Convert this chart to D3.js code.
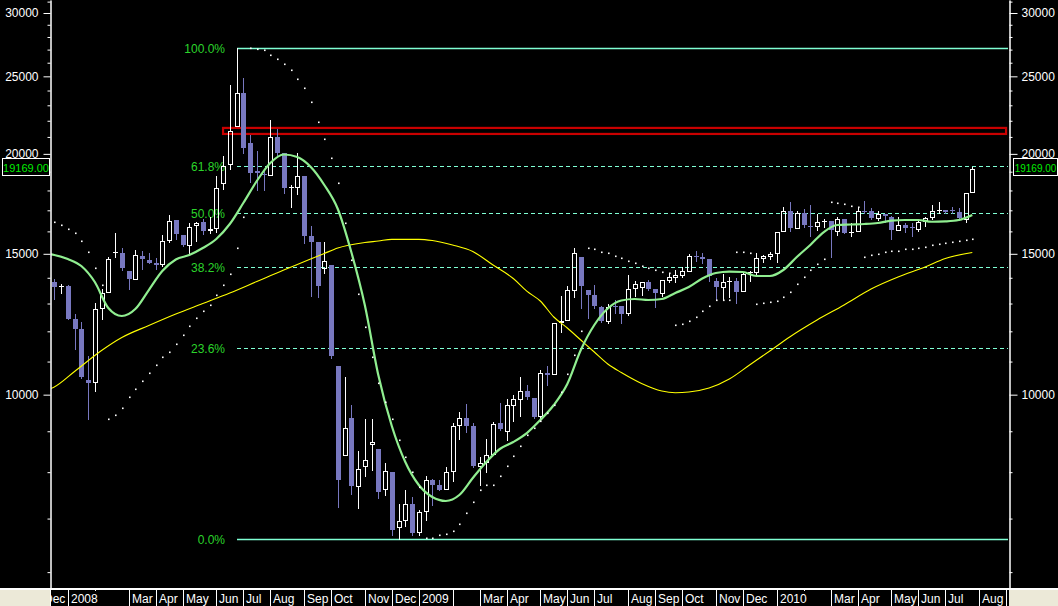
<!DOCTYPE html>
<html><head><meta charset="utf-8">
<script src="https://cdn.jsdelivr.net/npm/d3@7/dist/d3.min.js"></script>
<style>
html,body{margin:0;padding:0;background:#000;overflow:hidden}
svg{display:block}
text{font-family:"Liberation Sans",Arial,sans-serif}
</style></head><body>
<svg id="c" width="1058" height="606"></svg>
<script>
// ---------- DATA (weekly candles, index 0 = 3rd week of Dec 2007) ----------
const opens=[13830,13640,13670,12420,12090,10431,10332,12785,13410,15060,
 15020,14262,13910,14904,14734,14620,14510,15548,16532,15820,
 15340,16250,16437,16002,16122,18320,19355,21625,23810,20616,
 19030,18880,18790,21020,20030,18130,18143,18770,15790,15517,
 14370,14510,10860,8380,9350,7672,8112,8660,8552,7594,
 8004,6807,6945,7300,6708,7128,7822,7716,7594,7997,
 9137,9342,9137,8127,8220,8405,9225,8988,9686,9856,
 10106,9904,9366,10636,10590,12280,12355,13490,14875,13515,
 13325,12880,12320,12920,12905,12600,13540,13600,13830,13565,
 13360,13870,13975,14070,14245,14925,14845,14764,13870,13600,
 13850,13870,13425,14230,14180,14790,14875,14980,15985,16966,
 16110,16855,16265,16190,16440,16485,15985,16570,15950,15970,
 16985,16950,16580,16820,16690,16030,16295,16200,16063,16437,
 16610,16990,17000,17000,16915,16532,17870];
const highs=[13940,13740,13700,12610,12326,11177,13008,13565,14875,15939,
 15250,14270,15164,15133,15047,14820,15850,16790,16540,15850,
 16390,16420,16570,16690,18780,19876,24385,27130,24858,21115,
 20164,19160,22046,21464,20050,18290,20030,18790,16250,15530,
 15517,14520,10870,10530,9707,8510,9323,9323,8560,8206,
 8010,7300,7600,7455,7175,7913,7851,7822,8127,9225,
 9513,9735,9225,8350,8793,9242,9755,9868,10000,10530,
 10290,9910,10735,10860,12290,13290,13670,15250,14880,13520,
 13710,12900,12970,13130,12920,14110,13870,13840,13910,13570,
 13920,14150,14316,14427,14980,15120,15050,14770,14000,14150,
 14020,13975,14245,14290,15020,14950,15060,15990,17150,17400,
 16966,17050,17260,16810,16570,16500,16690,16580,16400,17150,
 17460,17100,16985,16830,16720,16690,16380,16390,16500,16660,
 17260,17390,17020,17150,17100,17880,19270];
const lows=[13160,13390,12420,11395,10500,9331,10115,12440,13400,14849,
 14316,13540,13900,14370,14600,14350,14500,15540,15665,15360,
 15047,15548,15880,15912,15950,18057,19130,21600,20065,18460,
 18023,18023,18780,19930,17880,17180,17814,15460,13290,13265,
 14205,11100,7230,8370,7513,7210,7910,8060,7420,7490,
 6670,6608,6850,6670,6670,6971,7270,7590,7590,7806,
 8809,8980,8110,7716,8010,8400,9032,8776,9277,9410,
 9870,9360,9296,10282,10580,11965,12350,13265,12845,12475,
 12845,12340,12300,12640,12300,12590,13300,13330,13530,12860,
 13300,13840,13830,14030,14240,14690,14590,13880,13132,13132,
 13265,13010,13420,13870,14170,14650,14790,14650,15950,16017,
 16100,16190,15790,16063,16190,14875,15820,15930,15790,15960,
 16855,16590,16520,16450,15650,16020,15970,15770,16030,16240,
 16600,16870,16880,16855,16530,16450,17860];
const closes=[13650,13660,12440,12090,10531,10350,12785,13410,14764,15080,
 14400,13938,14930,14764,14620,14510,15548,16500,15880,15370,
 16210,16400,16002,16122,18108,19316,21378,23809,20355,18916,
 18916,18850,21020,20065,18143,18160,18770,15790,15517,13670,
 14675,11177,7822,9076,7690,8073,8285,8726,7564,8020,
 6767,6945,7294,6720,7134,7822,7716,7600,8004,9137,
 9342,9137,8141,8206,8400,9190,9058,9697,9868,10095,
 9940,9383,10636,10580,12280,12370,13515,15020,13670,13340,
 12920,12355,12880,12880,12610,13540,13735,13830,13540,13410,
 13910,14030,14110,14275,14904,14880,14790,14070,13645,13830,
 13870,13425,14150,14245,14804,14904,14990,15985,16966,16170,
 16855,16310,16210,16420,16485,16063,16570,15940,15970,16980,
 16920,16640,16810,16740,16063,16295,16170,16180,16420,16626,
 16966,17015,16900,16960,16640,17870,19169];
// parabolic SAR dots (one per candle)
const sarValues=[16423,16282,16110,15925,15562,15077,14386,13700,9315,9422,
 9622,9924,10155,10392,10633,10881,11134,11296,11570,11862,
 12195,12455,12733,12944,13311,13700,14153,15241,16690,27130,
 27075,26980,26595,26290,25915,25481,24840,24198,23217,21936,
 20855,19755,18375,16376,14734,13350,12139,11134,10328,9790,
 9324,8776,8357,8004,7670,6610,6620,6677,6696,6754,
 6891,7104,7348,7600,7710,7710,7913,8144,8381,8626,
 8903,9084,9269,9486,9706,10077,10604,11199,12010,15241,
 15197,15090,15021,14904,14804,14677,14592,14481,14386,14316,
 14222,14175,12209,12255,12351,12494,12723,12895,13132,13132,
 13132,15090,15064,15021,12981,13007,13044,13094,13256,13424,
 13739,14044,14316,14552,14764,17397,17347,17297,17228,17178,
 14849,14935,14991,15064,15120,15133,15195,15208,15252,15310,
 15371,15416,15460,15518,15562,15607,15652];
// fast smoothed average (green)
const fastIdx=[-1,0,2,4,6,8,10,12,14,16,18,20,22,24,26,28,30,32,34,36,38,40,42,44,46,48,50,52,54,56,58,60,62,64,66,68,70,72,74,76,78,80,82,84,86,88,90,92,94,96,98,100,102,104,106,108,110,112,114,116,118,120,122,124,126,128,130,132,134,136];
const fastVals=[14990,14950,14777,14482,13830,12833,12541,12796,13515,14275,14755,14948,15252,15652,16343,17361,18497,19480,19962,19819,19257,18285,17064,15077,12944,10582,9137,8237,7710,7448,7363,7491,7867,8237,8552,8726,8954,9296,9706,10312,11371,12220,12815,13113,13170,13132,13170,13399,13632,13970,14193,14254,14234,14071,14071,14316,14862,15384,15971,16296,16320,16343,16390,16499,16532,16532,16449,16468,16532,16772];
// slow moving average (yellow)
const slowIdx=[-1,0,3,7,10,14,18,22,26,30,34,36,40,42,46,48,50,54,56,59,62,65,68,70,72,74,76,78,80,82,84,87,90,92,94,97,100,103,106,109,113,117,121,125,129,132,136];
const slowVals=[10140,10223,10689,11355,11788,12203,12613,12999,13399,13850,14316,14544,15013,15252,15495,15562,15638,15638,15584,15384,15098,14523,13970,13470,13094,12505,12114,11703,11306,10922,10658,10327,10106,10057,10077,10193,10461,10891,11339,11815,12397,12944,13554,14031,14440,14799,15055];
// x-axis month separators (candle index of first week of month)
const monthLabels=["Dec","2008","","Mar","Apr","May","Jun","Jul","Aug","Sep","Oct","Nov","Dec","2009","","Mar","Apr","May","Jun","Jul","Aug","Sep","Oct","Nov","Dec","2010","","Mar","Apr","May","Jun","Jul","Aug","Sep"];
const monthIdx=[-2,2,6,11,15,19,24,28,32,37,41,46,50,54,59,63,67,72,76,80,85,89,93,98,102,107,111,115,119,124,128,132,137,141];
const yMajorTicks=[10000,15000,20000,25000,30000];
const yMinorTicks=[6000,7000,8000,9000,11000,12000,13000,14000,16000,17000,18000,19000,21000,22000,23000,24000,26000,27000,28000,29000,31000];
const fibLevels=[0,0.236,0.382,0.5,0.618,1];
const fibLabels=["0.0%","23.6%","38.2%","50.0%","61.8%","100.0%"];
const fibHighIdx=27, fibLowIdx=51;
const zoneTop=21550, zoneBottom=21180, zoneStartIdx=25, zoneEndIdx=141;
const lastPrice=19169;

// ---------- DRAW ----------
const W=1058,H=606,L=50,R=1009,T=0,B=588;
const svg=d3.select('#c');
svg.append('rect').attr('width',W).attr('height',H).attr('fill','#000');
const x=d3.scaleLinear().domain([0,136]).range([54.3,972.3]);
const y=d3.scaleLog().domain([5732,31144]).range([B,T]);
const defs=svg.append('defs');
defs.append('clipPath').attr('id','plot').append('rect').attr('x',L+1).attr('y',T).attr('width',R-L-1).attr('height',B-T);
defs.append('clipPath').attr('id','band').append('rect').attr('x',L+1).attr('y',B).attr('width',R-L-1).attr('height',H-B);

const plot=svg.append('g').attr('clip-path','url(#plot)');
const fibColor='#7fffd4', fibText='#2bd42b', bear='#7878c0';

// Fibonacci retracement
const fHigh=highs[fibHighIdx], fLow=lows[fibLowIdx];
fibLevels.forEach((lv,k)=>{
  const v=fLow+lv*(fHigh-fLow);
  const yy=Math.round(y(v))+0.5;
  plot.append('line').attr('x1',Math.round(x(fibHighIdx))).attr('x2',1008).attr('y1',yy).attr('y2',yy)
    .attr('stroke',fibColor).attr('stroke-width',(lv===0||lv===1)?1.3:1)
    .attr('stroke-dasharray',(lv===0||lv===1)?null:'4,3');
  plot.append('text').attr('x',225).attr('y',yy+4.5).attr('text-anchor','end')
    .attr('font-size',12).attr('fill',fibText).text(fibLabels[k]);
});

// Red zone
plot.append('rect').attr('x',x(zoneStartIdx)).attr('y',y(zoneTop)).attr('width',x(zoneEndIdx)-x(zoneStartIdx))
  .attr('height',y(zoneBottom)-y(zoneTop)).attr('fill','none').attr('stroke','#c80000').attr('stroke-width',2.2);

// Candles
const cg=plot.append('g').attr('shape-rendering','crispEdges');
opens.forEach((o,i)=>{
  const c=closes[i], h=highs[i], l=lows[i];
  const up=c>=o, col=up?'#ffffff':bear;
  const c0=Math.round(x(i));
  const top=Math.round(y(Math.max(o,c))), bot=Math.round(y(Math.min(o,c)));
  const yh=Math.round(y(h)), yl=Math.round(y(l));
  if(bot-top<2){
    cg.append('line').attr('x1',c0+0.5).attr('x2',c0+0.5).attr('y1',yh).attr('y2',yl+1).attr('stroke',col);
    cg.append('rect').attr('x',c0-2).attr('y',top).attr('width',5).attr('height',Math.max(1,bot-top)).attr('fill',col);
    return;
  }
  if(up){
    if(yh<top) cg.append('line').attr('x1',c0+0.5).attr('x2',c0+0.5).attr('y1',yh).attr('y2',top).attr('stroke',col);
    if(yl>bot) cg.append('line').attr('x1',c0+0.5).attr('x2',c0+0.5).attr('y1',bot).attr('y2',yl+1).attr('stroke',col);
    cg.append('rect').attr('x',c0-1.5).attr('y',top+0.5).attr('width',4).attr('height',bot-top-1)
      .attr('fill','none').attr('stroke',col);
  } else {
    cg.append('line').attr('x1',c0+0.5).attr('x2',c0+0.5).attr('y1',yh).attr('y2',yl+1).attr('stroke',col);
    cg.append('rect').attr('x',c0-2).attr('y',top).attr('width',5).attr('height',bot-top).attr('fill',col);
  }
});

// Moving averages
const lineGen=d3.line().x(d=>x(d[0])).y(d=>y(d[1])).curve(d3.curveMonotoneX);
plot.append('path').datum(slowIdx.map((d,k)=>[d,slowVals[k]])).attr('d',lineGen)
  .attr('fill','none').attr('stroke','#ffff00').attr('stroke-width',1.1);
plot.append('path').datum(fastIdx.map((d,k)=>[d,fastVals[k]])).attr('d',lineGen)
  .attr('fill','none').attr('stroke','#90ee90').attr('stroke-width',2.2);

// SAR dots
plot.append('g').selectAll('rect').data(sarValues).join('rect')
  .attr('x',(d,i)=>Math.round(x(i))).attr('y',d=>Math.round(y(d))-0.5)
  .attr('width',1.6).attr('height',1.6).attr('fill','#fff');

// Y axes
const styleAxis=g=>{g.selectAll('path,line').attr('stroke','#fff');g.selectAll('text').attr('fill','#fff').attr('font-size',12).attr('font-family','"Liberation Sans",Arial,sans-serif');};
svg.append('g').attr('transform',`translate(${L+0.5},0)`)
  .call(d3.axisLeft(y).tickValues(yMinorTicks).tickSize(3).tickSizeOuter(0).tickFormat('')).call(styleAxis);
svg.append('g').attr('transform',`translate(${L+0.5},0)`)
  .call(d3.axisLeft(y).tickValues(yMajorTicks).tickSize(7).tickSizeOuter(0).tickPadding(5).tickFormat(d3.format('d'))).call(styleAxis);
svg.append('g').attr('transform',`translate(${R+0.5},0)`)
  .call(d3.axisRight(y).tickValues(yMinorTicks).tickSize(3).tickSizeOuter(0).tickFormat('')).call(styleAxis);
svg.append('g').attr('transform',`translate(${R+0.5},0)`)
  .call(d3.axisRight(y).tickValues(yMajorTicks).tickSize(8).tickSizeOuter(0).tickPadding(4).tickFormat(d3.format('d'))).call(styleAxis);

// Last price boxes
const py=y(lastPrice);
[[2.5,47,11],[1013.5,44,10]].forEach(([bx,bw,fs])=>{
  svg.append('rect').attr('x',bx).attr('y',Math.round(py)-10.5).attr('width',bw).attr('height',17)
    .attr('fill','#000').attr('stroke','#fff');
  svg.append('text').attr('x',bx+bw/2).attr('y',Math.round(py)+2.5).attr('font-size',fs)
    .attr('text-anchor','middle').attr('fill','#00ee00').text(d3.format('.2f')(lastPrice));
});

// X axis band
svg.append('rect').attr('x',0).attr('y',B).attr('width',W).attr('height',H-B).attr('fill','#000');
svg.append('rect').attr('x',0).attr('y',B+2).attr('width',L).attr('height',H-B-2).attr('fill','#ece9d8');
svg.append('rect').attr('x',R).attr('y',B+2).attr('width',W-R).attr('height',H-B-2).attr('fill','#ece9d8');
svg.append('rect').attr('x',0).attr('y',B).attr('width',W).attr('height',2).attr('fill','#fff');
svg.append('line').attr('x1',L+0.5).attr('x2',L+0.5).attr('y1',B).attr('y2',H).attr('stroke','#fff');
const band=svg.append('g').attr('clip-path','url(#band)');
monthIdx.forEach(mi=>{
  const px=Math.round(x(mi))+0.5;
  band.append('line').attr('x1',px).attr('x2',px).attr('y1',B).attr('y2',H).attr('stroke','#fff');
});
monthIdx.forEach((mi,k)=>{
  if(!monthLabels[k]) return;
  const px=Math.round(x(mi));
  const t=band.append('text').attr('x',px+3).attr('y',603).attr('font-size',12).attr('fill','#fff').text(monthLabels[k]);
  const w=t.node().getComputedTextLength();
  band.insert('rect',()=>t.node()).attr('x',px+1).attr('y',B+3).attr('width',w+3).attr('height',H-B-3).attr('fill','#000');
});
</script>
</body></html>
